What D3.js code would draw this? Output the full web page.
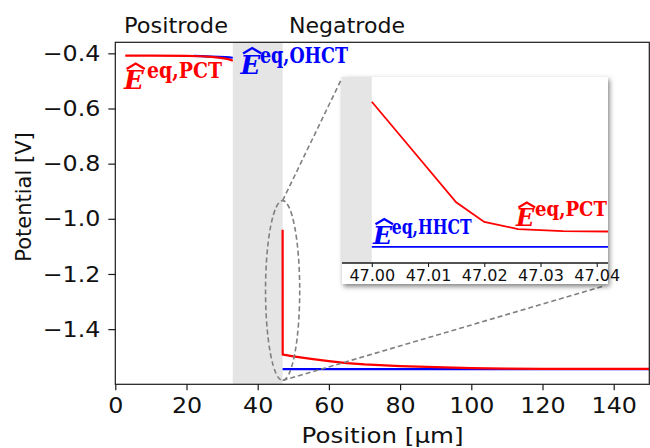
<!DOCTYPE html>
<html>
<head>
<meta charset="utf-8">
<script src="https://cdn.jsdelivr.net/npm/d3@7"></script>
<style>
  html, body { margin: 0; padding: 0; background: #fff; }
  svg { display: block; }
  text { font-family: "DejaVu Sans", sans-serif; fill: #111; }
  text.math { font-family: "DejaVu Serif", "Liberation Serif", serif; font-weight: bold; }
  text.math.var { font-style: italic; }
</style>
</head>
<body>
<svg id="chart" width="650" height="448"></svg>
<script>
// Equilibrium potentials across the cell: position [µm] vs potential [V]
const positrodeX   = [2.8, 10, 20, 24, 27, 29, 31, 32, 33];
const positrodePCT = [-0.4085, -0.4085, -0.409, -0.4105, -0.413, -0.4155, -0.419, -0.422, -0.427];
const positrodeOHCTX = [22, 24, 27, 29, 31, 32, 33];
const positrodeOHCT  = [-0.4092, -0.4102, -0.412, -0.413, -0.414, -0.415, -0.416];

const negatrodeX   = [47.0, 47.0075, 47.015, 47.02, 47.026, 47.034, 47.045, 48, 50, 55, 60, 65, 70, 80, 90, 100, 110, 120, 135, 150];
const negatrodePCT = [-1.040, -1.215, -1.390, -1.458, -1.483, -1.490, -1.492, -1.494, -1.499, -1.508, -1.516, -1.523, -1.528, -1.534, -1.538, -1.541, -1.543, -1.544, -1.544, -1.544];
const negatrodeHHCTX = [47.0, 150];
const negatrodeHHCT  = [-1.545, -1.545];

const separatorSpan = [33, 47];
const xTicks = [0, 20, 40, 60, 80, 100, 120, 140];
const yTicks = [-0.4, -0.6, -0.8, -1.0, -1.2, -1.4];
const insetTicks = [47.00, 47.01, 47.02, 47.03, 47.04];

// Zoom region highlighted on the main plot: centre and half-extents in data units
const zoomCentre = [47, -1.26];
const zoomHalf = [4.8, 0.326];

const RED = "#ff0000", BLUE = "#0000ff", SEP = "#e5e5e5", AXIS = "#1a1a1a";

const svg = d3.select("#chart");
const defs = svg.append("defs");

// ---- main axes ----
const M = { left: 115.3, right: 649.3, top: 42.3, bottom: 384.3 };
const x = d3.scaleLinear().domain([0, 150]).range([M.left, M.right]);
const y = d3.scaleLinear().domain([-1.6, -0.36]).range([M.bottom, M.top]);

defs.append("clipPath").attr("id", "clipMain")
  .append("rect").attr("x", M.left).attr("y", M.top)
  .attr("width", M.right - M.left).attr("height", M.bottom - M.top);

const main = svg.append("g");
const plot = main.append("g").attr("clip-path", "url(#clipMain)");

plot.append("rect")
  .attr("x", x(separatorSpan[0])).attr("y", M.top)
  .attr("width", x(separatorSpan[1]) - x(separatorSpan[0]))
  .attr("height", M.bottom - M.top).attr("fill", SEP);

const lineMain = d3.line().x(d => x(d[0])).y(d => y(d[1]));
const zip = (a, b) => a.map((v, i) => [v, b[i]]);

plot.append("path").datum(zip(positrodeOHCTX, positrodeOHCT))
  .attr("d", lineMain).attr("fill", "none").attr("stroke", BLUE).attr("stroke-width", 2.2);
plot.append("path").datum(zip(positrodeX, positrodePCT))
  .attr("d", lineMain).attr("fill", "none").attr("stroke", RED).attr("stroke-width", 2.2);
plot.append("path").datum(zip(negatrodeHHCTX, negatrodeHHCT))
  .attr("d", lineMain).attr("fill", "none").attr("stroke", BLUE).attr("stroke-width", 2.2);
plot.append("path").datum(zip(negatrodeX, negatrodePCT))
  .attr("d", lineMain).attr("fill", "none").attr("stroke", RED).attr("stroke-width", 2.2);

// axes
const STRETCH = 1.08;
const gx = main.append("g").attr("transform", `translate(0,${M.bottom})`)
  .call(d3.axisBottom(x).tickValues(xTicks).tickSize(6).tickPadding(7).tickFormat(d3.format("d")));
const gy = main.append("g").attr("transform", `translate(${M.left},0)`)
  .call(d3.axisLeft(y).tickValues(yTicks).tickSize(7).tickPadding(8).tickFormat(d3.format(".1f")));
[gx, gy].forEach(g => {
  g.select(".domain").remove();
  g.selectAll(".tick line").attr("stroke", AXIS).attr("stroke-width", 1.2);
  g.selectAll(".tick text").attr("font-size", 22).attr("fill", "#111");
});
gx.selectAll(".tick text").attr("transform", `scale(${STRETCH},1)`);
gy.selectAll(".tick text").attr("x", -15 / STRETCH).attr("transform", `scale(${STRETCH},1)`);

main.append("rect")
  .attr("x", M.left).attr("y", M.top)
  .attr("width", M.right - M.left).attr("height", M.bottom - M.top)
  .attr("fill", "none").attr("stroke", AXIS).attr("stroke-width", 1.2);

main.append("text").attr("transform", "translate(31,197) rotate(-90)")
  .attr("text-anchor", "middle").attr("font-size", 21).text("Potential [V]");
main.append("text").attr("x", 301.5).attr("y", 443)
  .attr("font-size", 22).attr("textLength", 162).attr("lengthAdjust", "spacingAndGlyphs")
  .text("Position [µm]");

main.append("text").attr("x", 124).attr("y", 33)
  .attr("font-size", 21).attr("textLength", 104).attr("lengthAdjust", "spacingAndGlyphs").text("Positrode");
main.append("text").attr("x", 289).attr("y", 33)
  .attr("font-size", 21).attr("textLength", 116).attr("lengthAdjust", "spacingAndGlyphs").text("Negatrode");

// ---- label for a hatted equilibrium potential, e.g. Ê^{eq,PCT} ----
function eqLabel(g, o) {
  const s = o.size;
  g.append("text").attr("class", "math var").attr("x", o.x).attr("y", o.y)
    .attr("font-size", s).style("fill", o.color)
    .attr("textLength", 0.76 * s).attr("lengthAdjust", "spacingAndGlyphs").text("E");
  const capTop = o.y - 0.73 * s;
  const hat = d3.path();
  hat.moveTo(o.x + 0.10 * s, capTop - 0.04 * s);
  hat.lineTo(o.x + 0.45 * s, capTop - 0.25 * s);
  hat.lineTo(o.x + 0.80 * s, capTop - 0.04 * s);
  g.append("path").attr("d", hat.toString()).attr("fill", "none")
    .attr("stroke", o.color).attr("stroke-width", 0.09 * s).attr("stroke-linejoin", "miter");
  g.append("text").attr("class", "math").attr("x", o.supX).attr("y", o.supY)
    .attr("font-size", o.supSize).style("fill", o.color)
    .attr("textLength", o.supLen).attr("lengthAdjust", "spacingAndGlyphs").text(o.sup);
}

eqLabel(main, { x: 124, y: 89, size: 26, color: RED, sup: "eq,PCT", supX: 147, supY: 78, supSize: 22, supLen: 75 });
eqLabel(main, { x: 240.5, y: 73.5, size: 26, color: BLUE, sup: "eq,OHCT", supX: 260, supY: 63, supSize: 22, supLen: 88 });

// ---- zoom marker and connectors ----
const ex = x(zoomCentre[0]), ey = y(zoomCentre[1]);
const erx = x(zoomCentre[0] + zoomHalf[0]) - ex;
const ery = y(zoomCentre[1]) - y(zoomCentre[1] + zoomHalf[1]);

const I = { left: 342, right: 608, top: 77, bottom: 263, boxBottom: 284 };

const dash = { stroke: "#808080", "stroke-width": 1.6, "stroke-dasharray": "5,3", fill: "none" };
function styled(sel) { Object.entries(dash).forEach(([k, v]) => sel.attr(k, v)); return sel; }

styled(main.append("ellipse").attr("cx", ex).attr("cy", ey).attr("rx", erx).attr("ry", ery));
styled(main.append("line").attr("x1", ex).attr("y1", ey - ery).attr("x2", I.left).attr("y2", I.top + 1));
styled(main.append("line").attr("x1", ex).attr("y1", ey + ery).attr("x2", I.right - 4).attr("y2", I.boxBottom + 2));

// ---- inset ----
const shadow = defs.append("filter").attr("id", "shadow")
  .attr("x", "-10%").attr("y", "-10%").attr("width", "130%").attr("height", "130%");
shadow.append("feDropShadow").attr("dx", 1.5).attr("dy", 2.5).attr("stdDeviation", 2.5)
  .attr("flood-color", "#000").attr("flood-opacity", 0.5);

const inset = svg.append("g");
inset.append("rect").attr("x", I.left).attr("y", I.top)
  .attr("width", I.right - I.left).attr("height", I.boxBottom - I.top)
  .attr("fill", "#fff").attr("filter", "url(#shadow)");

const xi = d3.scaleLinear().domain([46.9947, 47.042]).range([I.left, I.right]);
const yi = d3.scaleLinear().domain([-1.601, -0.954]).range([I.bottom, I.top]);

defs.append("clipPath").attr("id", "clipInset")
  .append("rect").attr("x", I.left).attr("y", I.top)
  .attr("width", I.right - I.left).attr("height", I.bottom - I.top);
const iplot = inset.append("g").attr("clip-path", "url(#clipInset)");

iplot.append("rect").attr("x", xi(separatorSpan[0])).attr("y", I.top)
  .attr("width", xi(separatorSpan[1]) - xi(separatorSpan[0])).attr("height", I.bottom - I.top)
  .attr("fill", SEP);

const lineInset = d3.line().x(d => xi(d[0])).y(d => yi(d[1]));
iplot.append("path").datum(zip(negatrodeHHCTX, negatrodeHHCT))
  .attr("d", lineInset).attr("fill", "none").attr("stroke", BLUE).attr("stroke-width", 1.8);
iplot.append("path").datum(zip(negatrodeX, negatrodePCT))
  .attr("d", lineInset).attr("fill", "none").attr("stroke", RED).attr("stroke-width", 1.8);

const gi = inset.append("g").attr("transform", `translate(0,${I.bottom})`)
  .call(d3.axisBottom(xi).tickValues(insetTicks).tickSize(4).tickPadding(3).tickFormat(d3.format(".2f")));
gi.select(".domain").remove();
gi.selectAll(".tick line").attr("stroke", AXIS).attr("stroke-width", 1.1);
gi.selectAll(".tick text").attr("font-size", 16).attr("fill", "#222");
inset.append("line").attr("x1", I.left).attr("x2", I.right).attr("y1", I.bottom).attr("y2", I.bottom)
  .attr("stroke", AXIS).attr("stroke-width", 1.3);

eqLabel(inset, { x: 516, y: 226, size: 24, color: RED, sup: "eq,PCT", supX: 535, supY: 216, supSize: 20, supLen: 72 });
eqLabel(inset, { x: 373, y: 243.5, size: 25, color: BLUE, sup: "eq,HHCT", supX: 391.7, supY: 233.5, supSize: 20, supLen: 80 });
</script>
</body>
</html>
